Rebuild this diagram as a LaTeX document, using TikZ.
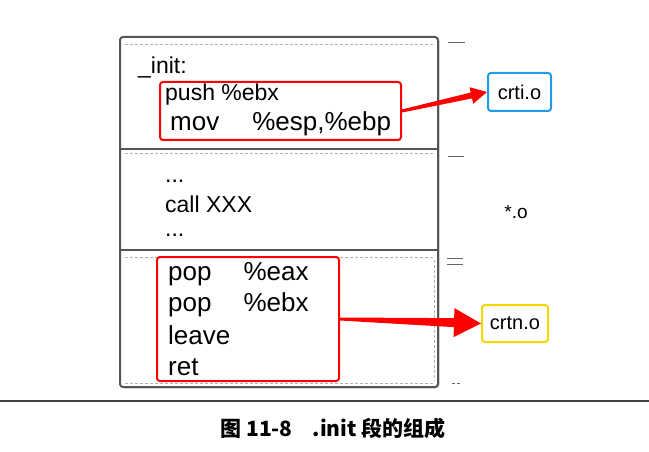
\documentclass[tikz,border=0pt]{standalone}
\usepackage{fontspec}
\setmainfont{Liberation Sans}
\newfontfamily\cjk{Noto Sans CJK SC}
\usetikzlibrary{calc,shadows}

\definecolor{boxgray}{HTML}{555555}
\definecolor{crtblue}{HTML}{1E9BE9}
\definecolor{crtyellow}{HTML}{F2D800}

\tikzset{
  % tapered red arrow: #1 head length, #2 head half width, #3 shaft half width at the head
  fatarrow/.style n args={3}{fill=red, draw=none,
    to path={let \p1=(\tikztostart), \p2=(\tikztotarget),
      \n1={atan2(\y2-\y1,\x2-\x1)}, \n2={veclen(\x2-\x1,\y2-\y1)} in
      -- ([shift={(\p1)},rotate=\n1]0,1.5)
      -- ([shift={(\p1)},rotate=\n1]{\n2-#1},#3)
      -- ([shift={(\p1)},rotate=\n1]{\n2-#1},#2)
      -- (\p2)
      -- ([shift={(\p1)},rotate=\n1]{\n2-#1},-#2)
      -- ([shift={(\p1)},rotate=\n1]{\n2-#1},-#3)
      -- ([shift={(\p1)},rotate=\n1]0,-1.5)
      -- cycle}},
  code/.style={anchor=west, inner sep=0pt, font=\fontsize{23}{27}\selectfont},
  bigcode/.style={anchor=west, inner sep=0pt, font=\fontsize{26}{30}\selectfont},
  redbox/.style={draw=red, line width=2pt, rounded corners=3pt, fill=white},
  objbox/.style={draw=#1, line width=2pt, rounded corners=3pt, inner sep=0pt,
                 font=\fontsize{20}{24}\selectfont},
  thinsep/.style={gray!60, line width=0.8pt, dash pattern=on 3pt off 2pt},
  tick/.style={gray!80!black, line width=1pt}
}

\begin{document}
\begin{tikzpicture}[x=1pt,y=-1pt]
  \useasboundingbox (0,0) rectangle (649,452);

  % the .init section
  \draw[boxgray, line width=2pt, rounded corners=3pt, fill=white,
        drop shadow={opacity=0.3, shadow xshift=1.5pt, shadow yshift=-1.5pt}]
    (120,37) rectangle (438,387);
  \draw[thinsep] (125,44) -- (433,44);
  \draw[boxgray, line width=2.5pt] (120,149) -- (438,149);
  \draw[thinsep] (125,153) -- (433,153);
  \draw[boxgray, line width=2.5pt] (120,250) -- (438,250);
  \draw[thinsep] (125,257) -- (433,257);
  \draw[thinsep] (434,260) -- (434,381);
  \draw[thinsep] (125,383) -- (433,383);

  % ticks beside the section
  \draw[tick] (448,43) -- (465,43);
  \draw[tick] (448,157) -- (464,157);
  \draw[tick] (447,258) -- (463,258);
  \draw[tick] (447,264) -- (463,264);
  \draw[tick, dash pattern=on 3pt off 2pt] (452,383) -- (461,383);

  % crti part
  \node[code] (init) at (138,67) {\_init:};
  \node[redbox, minimum width=241, minimum height=58] (prologue) at (280.5,111) {};
  \node[code] (push) at (165,95) {push \%ebx};
  \node[bigcode] (mov) at (170,124) {mov\hspace{33pt}\%esp,\%ebp};

  % user code
  \node[code] (dots1) at (165,181) {...};
  \node[code] (call) at (165,204) {call XXX};
  \node[code] (dots2) at (165,235) {...};

  % crtn part
  \node[redbox, minimum width=182, minimum height=124] (epilogue) at (248,319) {};
  \node[bigcode] (popa) at (168,274) {pop\hspace{32pt}\%eax};
  \node[bigcode] (popb) at (168,305) {pop\hspace{32pt}\%ebx};
  \node[bigcode] (leave) at (168,335) {leave};
  \node[bigcode] (ret) at (168,367) {ret};

  % object files
  \node[objbox=crtblue, minimum width=63, minimum height=38] (crti) at (519.5,92) {crti.o};
  \node[font=\fontsize{19}{22}\selectfont] (allobj) at (516,212) {*.o};
  \node[objbox=crtyellow, minimum width=66, minimum height=37] (crtn) at (515,323.5) {crtn.o};

  \fill[fatarrow={16}{8.5}{3}] (prologue.east) to (crti.west);
  \fill[fatarrow={27}{14.5}{4.5}] (epilogue.east) to (crtn.west);

  % caption
  \draw[gray!50!black, line width=1.5pt] (0,401) -- (649,401);
  \node[font=\cjk\bfseries\fontsize{21}{25}\selectfont] (caption) at (333,428)
    {图 11-8\hspace{20pt}.init 段的组成};
\end{tikzpicture}
\end{document}
